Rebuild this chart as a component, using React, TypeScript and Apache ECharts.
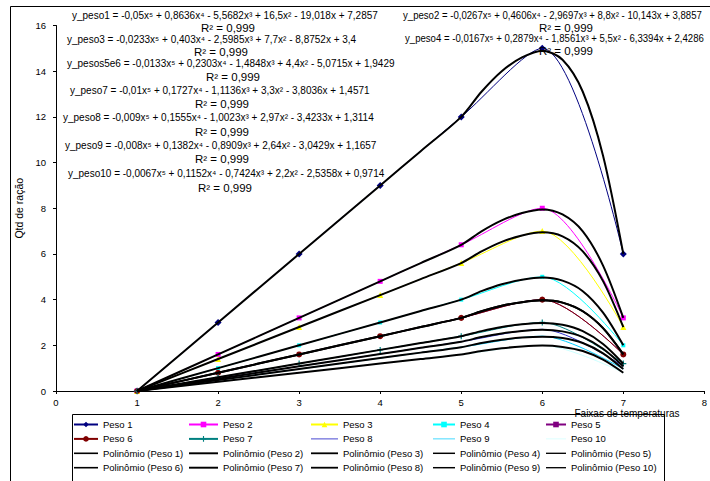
import React, { useEffect, useRef } from "react";
import * as echarts from "echarts";

// ---- Data ----
const xValues = [1, 2, 3, 4, 5, 6, 7];
const peso1 = [0, 3, 6, 9, 12, 15, 6];
const peso2 = [0, 1.6, 3.2, 4.8, 6.4, 8, 3.2];
const peso3 = [0, 1.4, 2.8, 4.2, 5.6, 7, 2.8];
const peso4 = [0, 1, 2, 3, 4, 5, 2];
const peso5 = [0, 0.8, 1.6, 2.4, 3.2, 4, 1.6];
const peso6 = [0, 0.8, 1.6, 2.4, 3.2, 4, 1.6];
const peso7 = [0, 0.6, 1.2, 1.8, 2.4, 3, 1.2];
const peso8 = [0, 0.54, 1.08, 1.62, 2.16, 2.7, 1.08];
const peso9 = [0, 0.48, 0.96, 1.44, 1.92, 2.4, 0.96];
const peso10 = [0, 0.4, 0.8, 1.2, 1.6, 2, 0.8];

// trendline (polynomial) curves at these x positions
const trendX = [1, 2, 3, 4, 4.5, 5, 5.25, 5.5, 5.75, 6, 6.25, 6.5, 6.75, 7];
const trend1 = [0, 3, 6, 9, 10.5, 12, 13.1, 14.0, 14.6, 14.9, 14.5, 13.1, 10.3, 6];
const trend2 = [0, 1.6, 3.2, 4.8, 5.6, 6.4, 6.99, 7.47, 7.79, 7.95, 7.73, 6.99, 5.49, 3.2];
const trend3 = [0, 1.4, 2.8, 4.2, 4.9, 5.6, 6.11, 6.53, 6.81, 6.95, 6.77, 6.11, 4.81, 2.8];
const trend4 = [0, 1, 2, 3, 3.5, 4, 4.37, 4.67, 4.87, 4.97, 4.83, 4.37, 3.43, 2];
const trend5 = [0, 0.8, 1.6, 2.4, 2.8, 3.2, 3.49, 3.73, 3.89, 3.97, 3.87, 3.49, 2.75, 1.6];
const trend6 = [0, 0.8, 1.6, 2.4, 2.8, 3.2, 3.49, 3.73, 3.89, 3.97, 3.87, 3.49, 2.75, 1.6];
const trend7 = [0, 0.6, 1.2, 1.8, 2.1, 2.4, 2.62, 2.8, 2.92, 2.98, 2.9, 2.62, 2.06, 1.2];
const trend8 = [0, 0.54, 1.08, 1.62, 1.89, 2.16, 2.36, 2.52, 2.63, 2.68, 2.61, 2.36, 1.85, 1.08];
const trend9 = [0, 0.48, 0.96, 1.44, 1.68, 1.92, 2.1, 2.24, 2.34, 2.38, 2.32, 2.1, 1.65, 0.96];
const trend10 = [0, 0.4, 0.8, 1.2, 1.4, 1.6, 1.75, 1.87, 1.95, 1.99, 1.93, 1.75, 1.37, 0.8];

const seriesNames = ["Peso 1", "Peso 2", "Peso 3", "Peso 4", "Peso 5", "Peso 6", "Peso 7", "Peso 8", "Peso 9", "Peso 10"];
const trendNames = seriesNames.map((n) => `Polinômio (${n})`);

const equations = [
  "y_peso1 = -0,05x⁵ + 0,8636x⁴ - 5,5682x³ + 16,5x² - 19,018x + 7,2857",
  "y_peso3 = -0,0233x⁵ + 0,403x⁴ - 2,5985x³ + 7,7x² - 8,8752x + 3,4",
  "y_pesos5e6 = -0,0133x⁵ + 0,2303x⁴ - 1,4848x³ + 4,4x² - 5,0715x + 1,9429",
  "y_peso7 = -0,01x⁵ + 0,1727x⁴ - 1,1136x³ + 3,3x² - 3,8036x + 1,4571",
  "y_peso8 = -0,009x⁵ + 0,1555x⁴ - 1,0023x³ + 2,97x² - 3,4233x + 1,3114",
  "y_peso9 = -0,008x⁵ + 0,1382x⁴ - 0,8909x³ + 2,64x² - 3,0429x + 1,1657",
  "y_peso10 = -0,0067x⁵ + 0,1152x⁴ - 0,7424x³ + 2,2x² - 2,5358x + 0,9714",
  "y_peso2 = -0,0267x⁵ + 0,4606x⁴ - 2,9697x³ + 8,8x² - 10,143x + 3,8857",
  "y_peso4 = -0,0167x⁵ + 0,2879x⁴ - 1,8561x³ + 5,5x² - 6,3394x + 2,4286",
];
const r2Text = "R² = 0,999";

const yTitle = "Qtd de ração";
const xTitle = "Faixas de temperaturas";

const FONT = '"Liberation Sans", Arial, sans-serif';

export default function App() {
  const ref = useRef<HTMLDivElement>(null);

  useEffect(() => {
    document.body.style.margin = "0";
    if (!ref.current) return;
    const chart = echarts.init(ref.current, undefined, { renderer: "svg" });

    const dataArrays = [peso1, peso2, peso3, peso4, peso5, peso6, peso7, peso8, peso9, peso10];
    const trendArrays = [trend1, trend2, trend3, trend4, trend5, trend6, trend7, trend8, trend9, trend10];
    const colors = ["#000080", "#FF00FF", "#FFFF00", "#00FFFF", "#800080", "#800000", "#008080", "#3333CC", "#00CCFF", "#CCFFFF"];
    const plus = "path://M4 0h2v4h4v2H6v4H4V6H0V4h4z";
    const symbols = ["diamond", "rect", "triangle", "rect", "rect", "circle", plus, "none", "none", "none"];
    const sizes = [7, 5, 6, 4, 4, 6, 6, 0, 0, 0];

    const dataSeries = dataArrays.map((arr, i) => ({
      name: seriesNames[i],
      type: "line",
      data: xValues.map((x, j) => [x, arr[j]]),
      smooth: 0.3,
      symbol: symbols[i],
      symbolSize: sizes[i],
      showSymbol: symbols[i] !== "none",
      color: colors[i],
      lineStyle: { width: 1, color: colors[i] },
      itemStyle: { color: colors[i] },
      z: 2,
    }));

    const trendSeries = trendArrays.map((arr, i) => ({
      name: trendNames[i],
      type: "line",
      data: trendX.map((x, j) => [x, arr[j]]),
      smooth: 0.3,
      symbol: "none",
      showSymbol: false,
      color: "#000",
      lineStyle: { width: 2, color: "#000" },
      itemStyle: { color: "#000" },
      z: 3,
    }));

    const thinLine = "path://M0 0h30v1H0z";
    const thickLine = "path://M0 0h30v2H0z";
    const legendItem = (idx: number) =>
      symbols[idx] === "none" ? { name: seriesNames[idx], icon: thinLine } : { name: seriesNames[idx] };

    const colLeft = [73, 188, 310, 432, 545];
    const colItemW = [24, 29, 27, 22, 20];
    const legends = [0, 1, 2, 3, 4].map((c) => ({
      orient: "vertical",
      left: colLeft[c],
      top: 419.5,
      itemWidth: colItemW[c],
      itemHeight: 7,
      itemGap: 4.4,
      selectedMode: false,
      symbolKeepAspect: true,
      padding: 0,
      textStyle: { fontSize: 9.5, fontFamily: FONT, color: "#000", lineHeight: 10 },
      data: [
        legendItem(c),
        legendItem(c + 5),
        { name: trendNames[c], icon: thickLine },
        { name: trendNames[c + 5], icon: thickLine },
      ],
    }));

    const eqPos = [
      { x: 72, y: 15, rx: 228, ry: 28, s: 1 },
      { x: 67, y: 39, rx: 221, ry: 52, s: 1 },
      { x: 67, y: 63, rx: 233, ry: 77, s: 1 },
      { x: 70, y: 90, rx: 222, ry: 104, s: 1 },
      { x: 63, y: 117, rx: 222, ry: 132, s: 1 },
      { x: 65, y: 145, rx: 222, ry: 159, s: 1 },
      { x: 68, y: 173, rx: 225, ry: 188, s: 1 },
      { x: 403, y: 15, rx: 566, ry: 28, s: 0.96 },
      { x: 405, y: 38, rx: 566, ry: 51, s: 0.96 },
    ];

    const graphics: any[] = [
      {
        type: "rect",
        shape: { x: 10.5, y: 6.5, width: 720, height: 500 },
        style: { fill: "none", stroke: "#000", lineWidth: 1 },
        silent: true,
        z: -10,
      },
      {
        type: "rect",
        shape: { x: 72.5, y: 414.5, width: 592, height: 100 },
        style: { fill: "#fff", stroke: "#000", lineWidth: 1 },
        silent: true,
        z: -5,
      },
      {
        type: "text",
        x: 627,
        y: 413,
        style: {
          text: xTitle,
          fontSize: 10,
          fontFamily: FONT,
          fill: "#000",
          textAlign: "center",
          textVerticalAlign: "middle",
        },
        z: 10,
      },
    ];
    equations.forEach((eq, i) => {
      const p = eqPos[i];
      graphics.push({
        type: "text",
        x: p.x,
        y: p.y,
        scaleX: p.s,
        style: {
          text: eq,
          fontSize: 10,
          fontFamily: FONT,
          fill: "#000",
          textAlign: "left",
          textVerticalAlign: "middle",
        },
        z: 10,
      });
      graphics.push({
        type: "text",
        x: p.rx,
        y: p.ry,
        scaleX: 1.15,
        style: {
          text: r2Text,
          fontSize: 10,
          fontFamily: FONT,
          fill: "#000",
          textAlign: "center",
          textVerticalAlign: "middle",
        },
        z: 10,
      });
    });

    chart.setOption({
      animation: false,
      backgroundColor: "#fff",
      grid: { left: 56, right: 4, top: 25.5, bottom: 90, containLabel: false },
      xAxis: {
        type: "value",
        min: 0,
        max: 8,
        interval: 1,
        axisLine: { show: true, lineStyle: { color: "#000", width: 1 } },
        axisTick: { show: true, length: 3, lineStyle: { color: "#000" } },
        axisLabel: { fontSize: 9.5, fontFamily: FONT, color: "#000", margin: 6 },
        splitLine: { show: false },
      },
      yAxis: {
        type: "value",
        min: 0,
        max: 16,
        interval: 2,
        name: yTitle,
        nameLocation: "middle",
        nameRotate: 90,
        nameGap: 32,
        nameTextStyle: { fontSize: 10.5, fontFamily: FONT, color: "#000" },
        axisLine: { show: true, lineStyle: { color: "#000", width: 1 } },
        axisTick: { show: true, length: 3, lineStyle: { color: "#000" } },
        axisLabel: { fontSize: 9.5, fontFamily: FONT, color: "#000", margin: 10 },
        splitLine: { show: false },
      },
      legend: legends,
      series: [...dataSeries, ...trendSeries],
      graphic: graphics,
    } as any);

    return () => chart.dispose();
  }, []);

  return <div ref={ref} style={{ width: 710, height: 481 }} />;
}
